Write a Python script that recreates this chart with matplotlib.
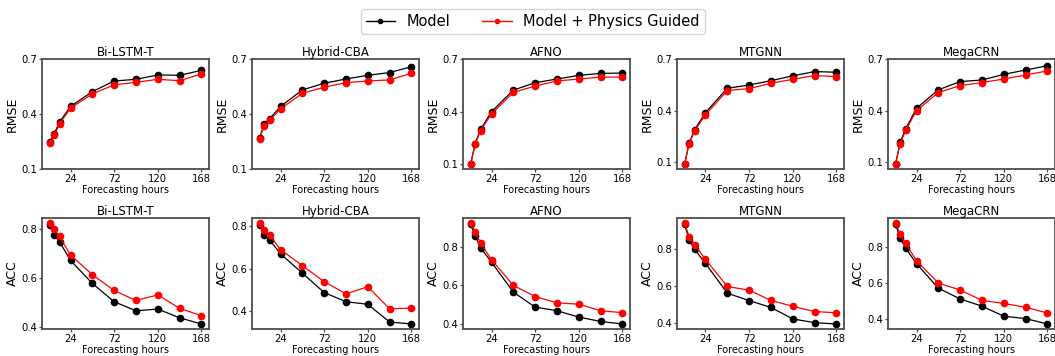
import matplotlib
matplotlib.use("Agg")
import matplotlib.pyplot as plt
import numpy as np

hours = [1, 6, 12, 24, 48, 72, 96, 120, 144, 168]
models = ["Bi-LSTM-T", "Hybrid-CBA", "AFNO", "MTGNN", "MegaCRN"]

rmse_model = [
    [0.250, 0.292, 0.356, 0.441, 0.522, 0.580, 0.589, 0.613, 0.611, 0.638],
    [0.269, 0.346, 0.374, 0.441, 0.531, 0.568, 0.591, 0.611, 0.626, 0.658],
    [0.100, 0.219, 0.299, 0.400, 0.523, 0.565, 0.586, 0.607, 0.618, 0.620],
    [0.092, 0.212, 0.289, 0.389, 0.530, 0.549, 0.574, 0.602, 0.627, 0.623],
    [0.092, 0.216, 0.293, 0.414, 0.521, 0.569, 0.578, 0.611, 0.636, 0.661],
]
rmse_phys = [
    [0.241, 0.283, 0.346, 0.432, 0.510, 0.559, 0.573, 0.589, 0.582, 0.618],
    [0.265, 0.337, 0.365, 0.428, 0.513, 0.546, 0.571, 0.580, 0.586, 0.622],
    [0.100, 0.215, 0.293, 0.387, 0.510, 0.546, 0.575, 0.586, 0.597, 0.597],
    [0.088, 0.208, 0.283, 0.376, 0.517, 0.528, 0.559, 0.582, 0.604, 0.598],
    [0.090, 0.208, 0.285, 0.400, 0.505, 0.546, 0.563, 0.584, 0.607, 0.631],
]
acc_model = [
    [0.818, 0.777, 0.748, 0.672, 0.578, 0.503, 0.466, 0.473, 0.437, 0.412],
    [0.805, 0.757, 0.734, 0.669, 0.579, 0.488, 0.445, 0.433, 0.350, 0.341],
    [0.920, 0.858, 0.796, 0.721, 0.565, 0.487, 0.468, 0.435, 0.412, 0.399],
    [0.935, 0.849, 0.798, 0.722, 0.562, 0.522, 0.485, 0.423, 0.403, 0.396],
    [0.928, 0.849, 0.796, 0.708, 0.572, 0.512, 0.472, 0.416, 0.403, 0.373],
]
acc_phys = [
    [0.825, 0.800, 0.770, 0.694, 0.614, 0.549, 0.508, 0.531, 0.476, 0.446],
    [0.813, 0.780, 0.757, 0.689, 0.614, 0.539, 0.482, 0.515, 0.412, 0.415],
    [0.925, 0.877, 0.820, 0.734, 0.600, 0.542, 0.509, 0.502, 0.468, 0.458],
    [0.940, 0.867, 0.824, 0.744, 0.598, 0.578, 0.523, 0.491, 0.463, 0.456],
    [0.934, 0.871, 0.821, 0.725, 0.600, 0.562, 0.504, 0.487, 0.466, 0.434],
]

W, H = 1055, 356
fig = plt.figure(figsize=(W / 100, H / 100), dpi=100)

lefts = [42, 252, 463, 677, 888]
ax_w = 167
rows = [(59, 169), (218, 329)]  # top, bottom in px


def make_ax(left, top, bottom):
    return fig.add_axes([left / W, 1 - bottom / H, ax_w / W, (bottom - top) / H])


def style(ax):
    for s in ax.spines.values():
        s.set_color("0.3")
        s.set_linewidth(1.3)
    ax.tick_params(labelsize=7.2, length=2, width=0.9, color="0.3", pad=1.5)
    ax.set_xticks([24, 72, 120, 168])
    ax.set_xlabel("Forecasting hours", fontsize=7, labelpad=0.5)


for i, name in enumerate(models):
    ax = make_ax(lefts[i], *rows[0])
    ax.plot(hours, rmse_model[i], color="black", marker="o", ms=4.5, lw=0.9)
    ax.plot(hours, rmse_phys[i], color="red", marker="o", ms=4.5, lw=0.9)
    ax.set_title(name, fontsize=8.5, pad=2)
    ax.set_ylabel("RMSE", fontsize=9, labelpad=2)
    ax.set_yticks([0.1, 0.4, 0.7])
    if i < 2:
        ax.set_ylim(0.1, 0.7)
    else:
        ax.set_ylim(top=0.7)
    style(ax)

    ax = make_ax(lefts[i], *rows[1])
    ax.plot(hours, acc_model[i], color="black", marker="o", ms=4.5, lw=0.9)
    ax.plot(hours, acc_phys[i], color="red", marker="o", ms=4.5, lw=0.9)
    ax.set_title(name, fontsize=8.5, pad=2)
    ax.set_ylabel("ACC", fontsize=9, labelpad=2)
    ax.set_yticks([0.4, 0.6, 0.8])
    style(ax)

handles = [
    plt.Line2D([], [], color="black", marker="o", ms=3, lw=1),
    plt.Line2D([], [], color="red", marker="o", ms=3, lw=1),
]
fig.legend(handles, ["Model", "Model + Physics Guided"], loc="upper center",
           bbox_to_anchor=(0.505, 0.995), ncol=2, fontsize=10.5, frameon=True,
           columnspacing=2.2, borderpad=0.35, handlelength=2.0)

fig.savefig("out.png", dpi=100)
